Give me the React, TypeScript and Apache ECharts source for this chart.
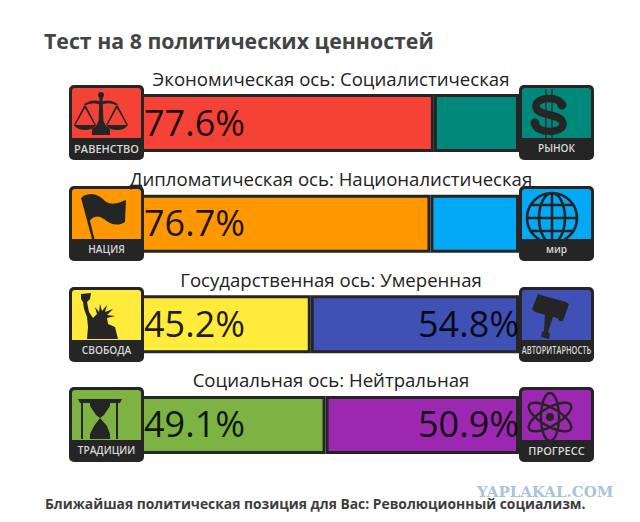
import React, { useEffect, useRef } from "react";
import * as echarts from "echarts";

const mainTitle = "Тест на 8 политических ценностей";
const footer = "Ближайшая политическая позиция для Вас: Революционный социализм.";
const watermark = "YAPLAKAL.COM";
const axisTitles = [
  "Экономическая ось: Социалистическая",
  "Дипломатическая ось: Националистическая",
  "Государственная ось: Умеренная",
  "Социальная ось: Нейтральная",
];
const leftValues = [77.6, 76.7, 45.2, 49.1];
const rightValues = [22.4, 23.3, 54.8, 50.9];
const rightLabelShown = [false, false, true, true];
const leftColors = ["#F44336", "#FF9800", "#FFEB3B", "#7CB342"];
const rightColors = ["#00897B", "#03A9F4", "#3F51B5", "#9C27B0"];
const leftNames = ["РАВЕНСТВО", "НАЦИЯ", "СВОБОДА", "ТРАДИЦИИ"];
const rightNames = ["РЫНОК", "мир", "АВТОРИТАРНОСТЬ", "ПРОГРЕСС"];
const leftIcons = ["scales", "flag", "liberty", "hourglass"];
const rightIcons = ["dollar", "globe", "gavel", "atom"];

const DARK = "#252525";
const FONT = '"Open Sans", sans-serif';

const circle = (cx: number, cy: number, r: number) =>
  `M${cx - r} ${cy}A${r} ${r} 0 1 1 ${cx + r} ${cy}A${r} ${r} 0 1 1 ${cx - r} ${cy}Z`;

const pan = (c: number) =>
  `M${c} 19L${c - 11} 40L${c - 9.5} 40L${c} 23L${c + 9.5} 40L${c + 11} 40Z` +
  `M${c - 11} 40L${c + 11} 40Q${c + 8} 45 ${c} 45Q${c - 8} 45 ${c - 11} 40Z`;

// Outline of a rotated ellipse for the atom icon, as a closed polyline.
const ell = (cx: number, cy: number, deg: number) => {
  const t = (deg * Math.PI) / 180;
  let d = "";
  for (let i = 0; i < 48; i++) {
    const a = (i / 48) * 2 * Math.PI;
    const ex = 24 * Math.cos(a);
    const ey = 9 * Math.sin(a);
    const px = cx + ex * Math.cos(t) - ey * Math.sin(t);
    const py = cy + ex * Math.sin(t) + ey * Math.cos(t);
    d += `${i ? "L" : "M"}${px.toFixed(2)} ${py.toFixed(2)}`;
  }
  return d + "Z";
};

const iconParts: Record<string, { d: string; stroke?: number }[]> = {
  scales: [
    {
      d:
        circle(32, 10, 3) +
        "M30.5 12L33.5 12L34.5 36L37 41L41 44L41 50L23 50L23 44L27 41L29.5 36Z" +
        "M15 19Q24 13 32 17Q40 13 49 19L49 21Q40 16 32 20Q24 16 15 21Z" +
        pan(16) +
        pan(48),
    },
  ],
  flag: [
    { d: "M12 12L23 53L25.5 53L15 11Z" },
    { d: "M13 11C22 5 30 9 36 15C42 20 50 17 57 14L56 36C48 41 41 38 35 33C28 28 23 31 20 36Z" },
  ],
  liberty: [
    {
      d:
        "M12 7L22 6L21 12L18 15L20 25L24 31L28 27L26 20L30 25L31 17L33 24L38 18L36 25L44 22L38 28L46 29L38 31L39 37L46 40L49 52L18 52L19 40L18 30L15 22L14 15L12 12Z",
    },
  ],
  hourglass: [
    { d: "M9 12L53 12L51 16L11 16Z" },
    { d: "M13 16L13 52M48 16L48 52", stroke: 2 },
    { d: "M21 16L41 16L41 19L35 28L31 31L38 39L41 47L41 52L21 52L21 47L25 39L31 31L27 28L21 19Z" },
  ],
  dollar: [
    {
      d: "M43 21C43 11 17 11 17 21C17 33 44 27 44 39C44 49 16 49 16 38",
      stroke: 7.5,
    },
    { d: "M27 4L27 54M33 4L33 54", stroke: 1.3 },
    { d: circle(43, 20, 4.5) + circle(16, 38, 4.5) },
  ],
  globe: [
    {
      d:
        circle(33, 32, 25) +
        "M33 7A13 25 0 0 1 33 57A13 25 0 0 1 33 7Z" +
        "M33 7L33 57M8 32L58 32M12 19L54 19M12 45L54 45",
      stroke: 2.6,
    },
  ],
  gavel: [
    { d: "M19 7L25 9L47 15L50 17L44 34L41 34L38 31L16 25L13 22Z" },
    { d: "M26 27L34 30L29 45L31 47L30 52L22 50L23 45L25 44Z" },
  ],
  atom: [
    { d: ell(31, 30, 90) + ell(31, 30, 30) + ell(31, 30, -30), stroke: 2.4 },
    { d: circle(31, 30, 4) },
  ],
};

const shapeNames: Record<string, string> = {};
Object.keys(iconParts).forEach((k) => {
  iconParts[k].forEach((p, i) => {
    const name = `icon_${k}_${i}`;
    echarts.graphic.registerShape(name, echarts.graphic.extendPath(p.d, {}) as any);
    shapeNames[`${k}_${i}`] = name;
  });
});

const iconTops = [85, 186, 287, 387];
const ICON_W = 75;
const ICON_H = 75;
const LEFT_X = 69;
const RIGHT_X = 519;
const ICON_Z = 30;

const buildIcon = (x: number, y: number, color: string, label: string, icon: string) => {
  const children: any[] = [
    { type: "rect", z: ICON_Z, shape: { x: 0, y: 0, width: ICON_W, height: ICON_H, r: 5 }, style: { fill: DARK } },
    { type: "rect", z: ICON_Z + 1, shape: { x: 3, y: 3, width: ICON_W - 6, height: 50, r: [3, 3, 0, 0] }, style: { fill: color } },
  ];
  iconParts[icon].forEach((p, i) => {
    children.push({
      type: shapeNames[`${icon}_${i}`],
      z: ICON_Z + 2,
      x: 0,
      y: 0,
      style: p.stroke
        ? { fill: "none", stroke: DARK, lineWidth: p.stroke }
        : { fill: DARK, stroke: "none" },
    });
  });
  const condensed = label.length >= 14 ? 0.68 : label === "РАВЕНСТВО" ? 1.0 : label === "ПРОГРЕСС" ? 1 : 0.92;
  children.push({
    type: "text",
    z: ICON_Z + 3,
    x: ICON_W / 2,
    y: 63,
    scaleX: condensed,
    style: {
      text: label,
      fill: "#d8d8d8",
      font: `600 11px ${FONT}`,
      align: "center",
      verticalAlign: "middle",
    },
  });
  return { type: "group", x, y, children };
};

export default function App() {
  const ref = useRef<HTMLDivElement>(null);
  useEffect(() => {
    const chart = echarts.init(ref.current!, null, { renderer: "svg" });
    const labelStyle = { fontFamily: FONT, fontSize: 36, color: "rgba(0,0,0,0.88)", offset: [0, -1] };
    const titleY = [78.5, 178.5, 279.5, 379.5];
    const graphics: any[] = [
      {
        type: "text",
        x: 44,
        y: 40.5,
        z: 40,
        style: { text: mainTitle, fill: "#444", font: `700 21.3px ${FONT}`, verticalAlign: "middle" },
      },
      {
        type: "text",
        x: 477,
        y: 491.5,
        z: 39,
        style: { text: watermark, fill: "#a9c4da", font: `700 15px "DejaVu Serif"`, verticalAlign: "middle" },
      },
      {
        type: "text",
        x: 45,
        y: 503,
        z: 40,
        style: { text: footer, fill: "#3d3d3d", font: `700 13.85px ${FONT}`, verticalAlign: "middle" },
      },
    ];
    axisTitles.forEach((t, i) => {
      graphics.push(buildIcon(LEFT_X, iconTops[i], leftColors[i], leftNames[i], leftIcons[i]));
      graphics.push(buildIcon(RIGHT_X, iconTops[i], rightColors[i], rightNames[i], rightIcons[i]));
      graphics.push({
        type: "text",
        x: 331,
        y: titleY[i],
        z: 40,
        style: { text: t, fill: "#222", font: `400 18.6px ${FONT}`, align: "center", verticalAlign: "middle" },
      });
    });
    chart.setOption({
      animation: false,
      backgroundColor: "#fff",
      grid: { left: 139, width: 380, top: 72.7, height: 402.6 },
      xAxis: { type: "value", min: 0, max: 100, show: false },
      yAxis: { type: "category", inverse: true, data: axisTitles, show: false },
      series: [
        {
          type: "bar",
          stack: "a",
          barWidth: 58,
          data: leftValues.map((v, i) => ({
            value: v,
            itemStyle: { color: leftColors[i], borderColor: DARK, borderWidth: 3 },
          })),
          label: {
            show: true,
            position: "insideLeft",
            distance: 5,
            formatter: (p: any) => `${p.value}%`,
            ...labelStyle,
          },
        },
        {
          type: "bar",
          stack: "a",
          barWidth: 58,
          data: rightValues.map((v, i) => ({
            value: v,
            itemStyle: { color: rightColors[i], borderColor: DARK, borderWidth: 3 },
            label: { show: rightLabelShown[i] },
          })),
          label: {
            show: true,
            position: "insideRight",
            distance: 0,
            formatter: (p: any) => `${p.value}%`,
            ...labelStyle,
          },
        },
      ],
      graphic: graphics,
    });
    return () => chart.dispose();
  }, []);
  return <div ref={ref} style={{ position: "absolute", left: 0, top: 0, width: 640, height: 522 }} />;
}
